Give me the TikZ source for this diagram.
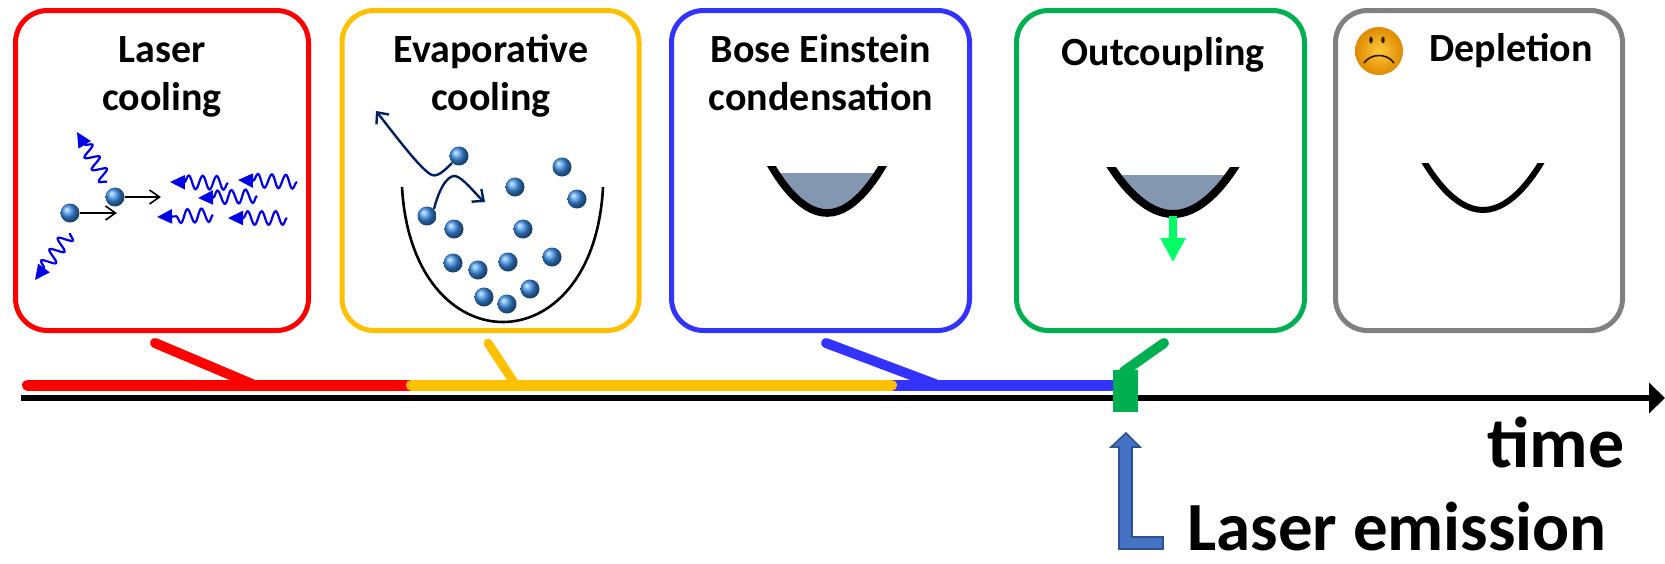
\documentclass[tikz,border=0pt]{standalone}
\usepackage{fontspec}
\setmainfont{Carlito}
\usetikzlibrary{arrows.meta,decorations.pathmorphing,calc,positioning}

\definecolor{stRed}{HTML}{FF0000}
\definecolor{stYellow}{HTML}{FFC000}
\definecolor{stBlue}{HTML}{3333FF}
\definecolor{stGreen}{HTML}{00B050}
\definecolor{stGray}{HTML}{808080}
\definecolor{navy}{HTML}{002060}
\definecolor{photonblue}{HTML}{0000E6}
\definecolor{atomblue}{HTML}{3A8EE6}
\definecolor{cond}{HTML}{8497B0}
\definecolor{outbeam}{HTML}{00FF66}
\definecolor{emitfill}{HTML}{4472C4}
\definecolor{emitline}{HTML}{2F528F}
\definecolor{smileyin}{HTML}{FFC83C}
\definecolor{smileyout}{HTML}{E08A00}

\tikzset{
  stage/.style={draw=#1, line width=2.5pt, rounded corners=16pt,
    minimum width=146.5pt, minimum height=160pt},
  stagetitle/.style={font=\fontsize{20}{24}\selectfont\bfseries, align=center,
    inner sep=0pt, anchor=base},
  atom/.style={circle, inner sep=0pt, minimum size=9.5pt, ball color=atomblue},
  photon/.style={draw=photonblue, line width=1.1pt, decorate,
    decoration={snake, amplitude=3.4pt, segment length=7pt, post length=6.5pt},
    -{Triangle[length=7.5pt,width=7pt]}},
  kick/.style={-{Straight Barb[length=5pt,width=7pt]}, line width=0.8pt},
  hop/.style={draw=navy, line width=1.2pt, -{Straight Barb[length=4.5pt,width=8pt]}},
  feed/.style={line width=5pt, line cap=round},
  phase/.style={line width=5.5pt},
}

\begin{document}
\begin{tikzpicture}[x=0.5pt, y=-0.5pt]
\useasboundingbox (0,0) rectangle (1665,563);

% stage boxes
\node[stage=stRed] (laser) at (162,170.5) {};
\node[stage=stYellow, minimum width=148.5pt] (evap) at (490.5,170.5) {};
\node[stage=stBlue, minimum width=149pt] (bec) at (820.5,170.5) {};
\node[stage=stGreen, minimum width=144pt] (outc) at (1160.5,170.5) {};
\node[stage=stGray, minimum width=143.5pt] (depl) at (1479,170.5) {};

% titles (base anchor sits on the last line)
\node[stagetitle] (lasertitle) at (162,110) {Laser\\cooling};
\node[stagetitle] (evaptitle) at (491,110) {Evaporative\\cooling};
\node[stagetitle] (bectitle) at (821,110) {Bose Einstein\\condensation};
\node[stagetitle] (outctitle) at (1163,65) {Outcoupling};
\node[stagetitle] (depltitle) at (1511,61) {Depletion};

% laser cooling: photons and kicked atoms
\foreach \tx/\ty/\hx/\hy in {228/183/170/182, 297/182/238/180, 257/196/198/198,
    213/215/157/217, 287/218/228/218, 107/182/77/132, 70/233/35/280}
  \draw[photon] (\tx,\ty) -- (\hx,\hy);
\node[atom] (a1) at (70,213) {};
\node[atom] (a2) at (115,197) {};
\draw[kick] (a1.east) -- ++(37,0);
\draw[kick] (a2.east) -- ++(36,0);

% evaporative cooling
\draw[line width=1.3pt] (402,187) .. controls (412,367) and (594,367) .. (603,187);
\foreach \px/\py [count=\i] in {459/156, 562/167, 515/187, 577/199, 427/216,
    454/229, 523/229, 453/263, 478/270, 508/262, 552/257, 530/289, 484/297, 507/304}
  \node[atom] (e\i) at (\px,\py) {};
\draw[hop] (e1.south west) .. controls (442,173) and (436,178) .. (430,174)
  .. controls (418,166) and (395,135) .. (376,111);
\draw[hop] (e5.north east) .. controls (440,185) and (450,172) .. (458,177)
  .. controls (468,183) and (476,195) .. (485,202);

% condensate in the trap
\begin{scope}
  \clip (740,166) rectangle (910,240);
  \begin{scope}
    \clip (768,160) parabola bend (827,213) (886,160) -- cycle;
    \fill[cond] (740,173) rectangle (910,240);
  \end{scope}
  \draw[line width=3.8pt] (768,160) parabola bend (827,213) (886,160);
\end{scope}

% outcoupled condensate
\begin{scope}
  \clip (1090,167) rectangle (1260,240);
  \begin{scope}
    \clip (1108,162) parabola bend (1173,214) (1238,162) -- cycle;
    \fill[cond] (1090,175) rectangle (1260,240);
  \end{scope}
  \draw[line width=4pt] (1108,162) parabola bend (1173,214) (1238,162);
\end{scope}
\draw[outbeam, line width=4pt, -{Triangle[length=12pt,width=12pt]}] (1173,216) -- (1173,262);

% empty trap
\begin{scope}
  \clip (1400,163) rectangle (1570,240);
  \draw[line width=3pt] (1422,158) parabola bend (1483,210) (1544,158);
\end{scope}
\node[circle, minimum size=24pt, inner sep=0pt, shading=radial,
  inner color=smileyin, outer color=smileyout] (smiley) at (1379,51) {};
\fill[black!85] (1371,40) ellipse (0.9pt and 1.7pt) (1383,40) ellipse (0.9pt and 1.7pt);
\draw[black!80!brown, line width=0.8pt] (1364,63) .. controls (1371,53) and (1387,53) .. (1394,63);

% time axis
\coordinate (axstart) at (21,398);
\coordinate (axend) at (1665,398);
\draw[line width=3pt, -{Triangle[length=8pt,width=15pt]}] (axstart) -- (axend);
\node[font=\fontsize{36}{40}\selectfont\bfseries, anchor=base east, inner sep=0pt] (time) at (1625,467) {time};

% phases along the axis
\coordinate (p0) at (27.5,385);
\coordinate (p1) at (411.5,385);
\coordinate (p2) at (891.5,385);
\coordinate (p3) at (1114,385);
\draw[phase, stRed, line cap=round] (p0) -- (415,385);
\draw[phase, stBlue] (870,385) -- (p3);
\draw[phase, stYellow, line cap=round] (p1) -- (p2);

\coordinate (c1) at (252,384);
\coordinate (c2) at (515,384);
\coordinate (c3) at (935,384);
\draw[feed, stRed] ([xshift=-3.5pt,yshift=-5pt]laser.south) -- (c1);
\draw[feed, stYellow, line width=4.5pt] ([xshift=-1.25pt,yshift=-5pt]evap.south) -- (c2);
\draw[feed, stBlue] ([xshift=2.75pt,yshift=-5pt]bec.south) -- (c3);

\node[fill=stGreen, minimum width=12.5pt, minimum height=21pt, inner sep=0pt] (mark) at (1125.5,391) {};
\draw[feed, stGreen] ([xshift=1.75pt,yshift=-5pt]outc.south) -- ([xshift=-1pt,yshift=-1pt]mark.north);

% laser emission
\node[font=\fontsize{34.5}{40}\selectfont\bfseries, anchor=base west, inner sep=0pt, text depth=0pt] (emit) at (1187,550) {Laser emission};
\draw[emitline, fill=emitfill, line width=0.8pt] (1126,433) -- (1140,447) -- (1132,447)
  -- (1132,537) -- (1163,537) -- (1163,549) -- (1119,549) -- (1119,447) -- (1111,447) -- cycle;
\end{tikzpicture}
\end{document}
